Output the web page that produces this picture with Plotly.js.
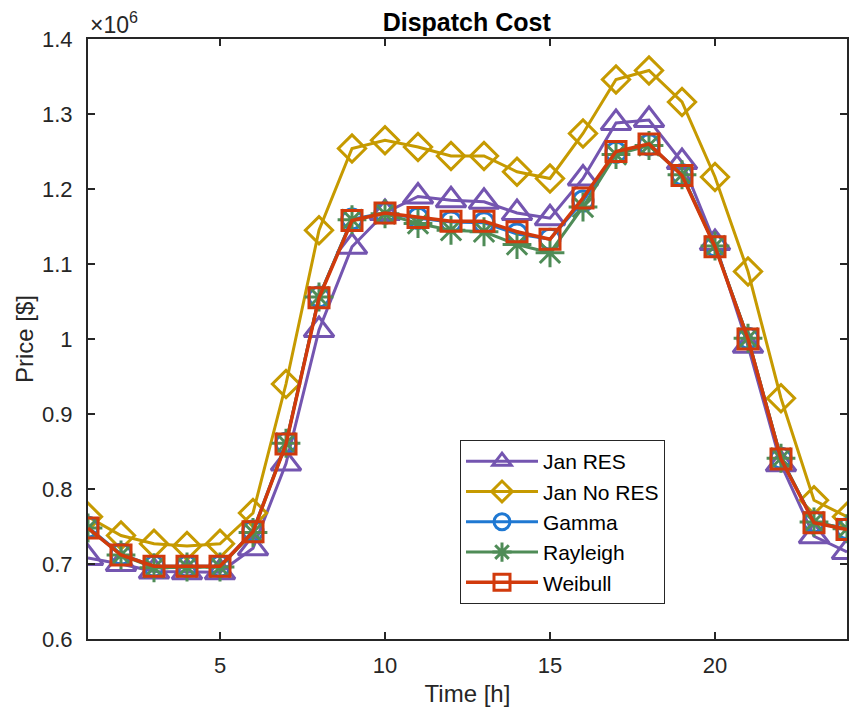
<!DOCTYPE html>
<html>
<head>
<meta charset="utf-8">
<script src="https://cdn.plot.ly/plotly-3.0.1.min.js"></script>
<style>
html,body{margin:0;padding:0;background:#fff;}
#chart{width:854px;height:715px;}
</style>
</head>
<body>
<div id="chart"></div>
<script>
// Hours of the day
var hours = [1,2,3,4,5,6,7,8,9,10,11,12,13,14,15,16,17,18,19,20,21,22,23,24];
// Dispatch cost in units of 1e6 $
var janRES   = [0.708,0.700,0.690,0.689,0.689,0.721,0.834,1.012,1.123,1.168,1.190,1.185,1.183,1.168,1.161,1.214,1.288,1.292,1.236,1.128,0.991,0.833,0.737,0.716];
var janNoRES = [0.763,0.738,0.727,0.724,0.727,0.768,0.940,1.145,1.254,1.265,1.256,1.244,1.244,1.223,1.214,1.274,1.346,1.358,1.316,1.216,1.090,0.921,0.785,0.763];
var gammaC   = [0.749,0.713,0.697,0.697,0.697,0.744,0.861,1.056,1.160,1.168,1.161,1.156,1.155,1.140,1.133,1.184,1.249,1.259,1.219,1.124,1.001,0.841,0.756,0.747];
var rayleigh = [0.748,0.712,0.695,0.696,0.696,0.742,0.861,1.056,1.159,1.167,1.154,1.145,1.143,1.126,1.115,1.176,1.246,1.258,1.219,1.124,1.001,0.841,0.756,0.747];
var weibull  = [0.748,0.712,0.697,0.697,0.697,0.743,0.860,1.055,1.158,1.168,1.162,1.157,1.157,1.143,1.133,1.188,1.250,1.260,1.218,1.123,1.000,0.840,0.755,0.746];

var names = ['Jan RES','Jan No RES','Gamma','Rayleigh','Weibull'];
var series = [janRES, janNoRES, gammaC, rayleigh, weibull];
var colors = ['#7455B0','#C69A00','#1F78D2','#4F8C57','#D13A0C'];
var symbols = ['triangle-up-open','diamond-open','circle-open','asterisk-open','square-open'];
var sizes = [26, 21, 20, 24, 20];
var widths = [3, 3, 3, 3, 3.5];

var traces = series.map(function(ys, i){
  return {
    x: hours, y: ys, name: names[i], type: 'scatter', mode: 'lines+markers',
    line: {color: colors[i], width: widths[i]},
    marker: {symbol: symbols[i], size: sizes[i], color: colors[i], line: {color: colors[i], width: 3}}
  };
});

var fontFam = 'Liberation Sans, Arial, Helvetica, sans-serif';
var axCol = '#262626';
var layout = {
  width: 854, height: 715,
  margin: {l: 88, r: 7, t: 39, b: 76},
  paper_bgcolor: '#fff', plot_bgcolor: '#fff',
  font: {family: fontFam, color: axCol, size: 22},
  title: {text: '<b>Dispatch Cost</b>', font: {size: 25, color: '#000'}, x: 0.5465, xanchor: 'center', y: 1 - 22/715, yanchor: 'middle', yref: 'container'},
  xaxis: {
    range: [1, 24], tickvals: [5,10,15,20], ticks: 'inside', ticklen: 7, tickwidth: 2, tickcolor: axCol,
    showline: true, linecolor: axCol, linewidth: 2, mirror: 'allticks', showgrid: false, zeroline: false,
    tickfont: {size: 22, color: axCol}, ticklabelstandoff: 6,
    title: {text: 'Time [h]', font: {size: 24, color: axCol}, standoff: 8}
  },
  yaxis: {
    range: [0.6, 1.4], dtick: 0.1, tick0: 0.6, ticks: 'inside', ticklen: 7, tickwidth: 2, tickcolor: axCol,
    showline: true, linecolor: axCol, linewidth: 2, mirror: 'allticks', showgrid: false, zeroline: false,
    tickfont: {size: 22, color: axCol}, ticklabelstandoff: 9,
    title: {text: 'Price [$]', font: {size: 24, color: axCol}, standoff: 2}
  },
  legend: {
    x: (460-88)/759, y: (639-440)/600, xanchor: 'left', yanchor: 'top',
    bgcolor: '#fff', bordercolor: '#262626', borderwidth: 1,
    font: {size: 21, color: '#000'}, itemwidth: 72, tracegroupgap: 0
  },
  annotations: [{
    text: '×10<sup>6</sup>', xref: 'paper', yref: 'paper', x: 0, y: 1, xanchor: 'left', yanchor: 'bottom',
    showarrow: false, font: {size: 23, color: axCol}, yshift: -1
  }],
  showlegend: true
};

Plotly.newPlot('chart', traces, layout, {displayModeBar: false, staticPlot: true});
</script>
</body>
</html>
